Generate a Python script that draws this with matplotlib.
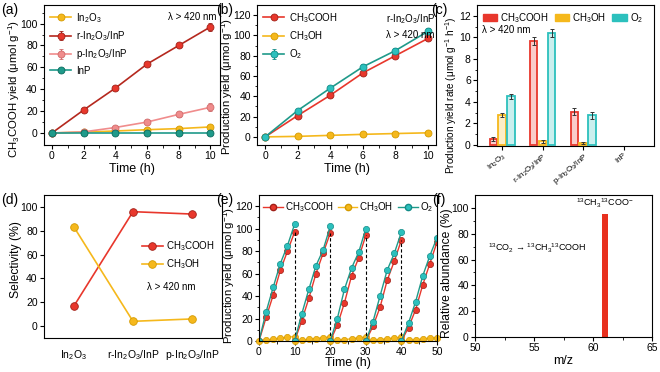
import numpy as np
import matplotlib
matplotlib.use("Agg")
import matplotlib.pyplot as plt
from matplotlib.patches import Patch
from matplotlib.lines import Line2D

plt.rcParams["font.family"] = ["Liberation Sans", "DejaVu Sans"]
plt.rcParams["mathtext.default"] = "regular"
plt.rcParams["font.size"] = 8
plt.rcParams["axes.linewidth"] = 0.8

# ---------------- data ----------------
time = [0, 2, 4, 6, 8, 10]

# (a) CH3COOH yield
a_in2o3 = [0, 0.8, 1.8, 3.0, 4.0, 5.5]
a_r = [0, 21, 41, 63, 80, 97]
a_r_err = [0, 0.8, 1, 1.2, 1.5, 3.5]
a_p = [0, 1, 5, 10, 17, 23.5]
a_p_err = [0, 0.5, 0.8, 1.2, 2.5, 3.5]
a_inp = [0, 0, 0, 0, 0, 0]

# (b) r-In2O3/InP products
b_acid = [0, 21, 41, 63, 80, 97]
b_meoh = [0, 0.5, 1.5, 2.5, 3.3, 4.0]
b_o2 = [0, 26, 48, 69, 85, 104]
b_o2_err = [0, 1.5, 2, 2.5, 2.5, 3]

# (c) production rates
c_groups = ["In$_2$O$_3$", "r-In$_2$O$_3$/InP", "p-In$_2$O$_3$/InP", "InP"]
c_acid = [0.55, 9.65, 3.1, 0]
c_acid_err = [0.2, 0.35, 0.35, 0]
c_meoh = [2.75, 0.35, 0.2, 0]
c_meoh_err = [0.2, 0.15, 0.1, 0]
c_o2 = [4.5, 10.4, 2.75, 0]
c_o2_err = [0.2, 0.35, 0.3, 0]

# (d) selectivity
d_samples = ["In$_2$O$_3$", "r-In$_2$O$_3$/InP", "p-In$_2$O$_3$/InP"]
d_acid = [16.5, 96, 94]
d_meoh = [83.5, 4, 6]

# (e) cycling, five runs of 10 h
e_acid = [[0, 21, 41, 63, 80, 97],
          [0, 18, 38, 60, 78, 96],
          [0, 14, 34, 58, 74, 94],
          [0, 13, 30, 54, 71, 90],
          [0, 12, 28, 50, 69, 88]]
e_o2 = [[0, 26, 48, 69, 85, 104],
        [0, 24, 46, 67, 81, 102],
        [0, 20, 46, 65, 79, 100],
        [0, 17, 40, 63, 78, 97],
        [0, 16, 35, 58, 76, 92]]
e_meoh = [[0, 0.8, 1.5, 2.5, 3.3, 4.0],
          [0, 0.6, 1.4, 2.2, 3.0, 3.5],
          [0, 0.6, 1.2, 2.0, 2.8, 3.4],
          [0, 0.5, 1.2, 2.0, 2.6, 3.2],
          [0, 0.5, 1.0, 1.8, 2.5, 3.0]]

# (f) isotope labelling
f_mz = [61]
f_abund = [95.5]

RED = "#e8372c"
YEL = "#f5b81c"
PINK = "#f08c8c"
TEAL = "#1f9a8a"
CYAN = "#2cc0bd"

fig = plt.figure(figsize=(6.6, 3.72), dpi=100)
W, H = 660, 372
LAB = 8.2


def add_ax(l, t, r, b):
    return fig.add_axes([l / W, 1 - b / H, (r - l) / W, (b - t) / H])


def style(ax):
    ax.tick_params(direction="out", length=3, width=0.8, labelsize=7.5, pad=1.5)
    ax.tick_params(which="minor", direction="out", length=1.8, width=0.6)


def ylab(ax, text, xpos, ypos, size=LAB):
    ax.set_ylabel(text, fontsize=size)
    ax.yaxis.set_label_coords(xpos, ypos)


def mk(ax, x, y, c, ec, lc=None, err=None, **kw):
    ax.errorbar(x, y, yerr=err, color=lc or c, marker="o", ms=5, mfc=c, mec=ec,
                mew=0.6, lw=1.2, ecolor=ec, elinewidth=0.8, capsize=1.5, **kw)


# ---------------- (a) ----------------
ax = add_ax(44, 5, 220, 145)
mk(ax, time, a_in2o3, YEL, "#d49a00", label="In$_2$O$_3$")
mk(ax, time, a_r, RED, "#a02018", lc="#b5281e", err=a_r_err, label="r-In$_2$O$_3$/InP")
mk(ax, time, a_p, PINK, "#d06b6b", err=a_p_err, label="p-In$_2$O$_3$/InP")
mk(ax, time, a_inp, TEAL, "#0c6b5e", label="InP")
ax.set_xlim(-0.5, 10.6)
ax.set_ylim(-11, 117)
ax.set_xticks([0, 2, 4, 6, 8, 10])
ax.set_yticks([0, 20, 40, 60, 80, 100])
ax.set_xticks(np.arange(1, 10, 2), minor=True)
ax.set_yticks(np.arange(10, 111, 20), minor=True)
ax.set_xlabel("Time (h)", fontsize=9, labelpad=1)
ylab(ax, "CH$_3$COOH yield (μmol g$^{-1}$)", -0.125, 0.40)
ax.legend(loc="upper left", frameon=False, fontsize=7, handlelength=2.2,
          borderaxespad=0.2, labelspacing=0.45, handletextpad=0.5)
ax.text(0.98, 0.95, "λ > 420 nm", transform=ax.transAxes, ha="right", va="top", fontsize=7)
style(ax)
fig.text(1 / W, 1 - 10 / H, "(a)", fontsize=10, va="center")

# ---------------- (b) ----------------
ax = add_ax(257, 5, 436, 145)
mk(ax, time, b_acid, RED, "#a02018", label="CH$_3$COOH")
mk(ax, time, b_meoh, YEL, "#d49a00", label="CH$_3$OH")
mk(ax, time, b_o2, CYAN, "#138c88", lc=TEAL, err=b_o2_err, label="O$_2$")
ax.set_xlim(-0.5, 10.5)
ax.set_ylim(-8, 130)
ax.set_xticks([0, 2, 4, 6, 8, 10])
ax.set_yticks(np.arange(0, 121, 20))
ax.set_xticks(np.arange(1, 10, 2), minor=True)
ax.set_yticks(np.arange(10, 121, 20), minor=True)
ax.set_xlabel("Time (h)", fontsize=9, labelpad=1)
ylab(ax, "Production yield (μmol g$^{-1}$)", -0.125, 0.42)
ax.legend(loc="upper left", frameon=False, fontsize=7, handlelength=2.2,
          borderaxespad=0.2, labelspacing=0.45, handletextpad=0.5)
ax.text(0.72, 0.95, "r-In$_2$O$_3$/InP", transform=ax.transAxes, ha="left", va="top", fontsize=7)
ax.text(0.72, 0.82, "λ > 420 nm", transform=ax.transAxes, ha="left", va="top", fontsize=7)
style(ax)
fig.text(216 / W, 1 - 10 / H, "(b)", fontsize=10, va="center")

# ---------------- (c) ----------------
ax = add_ax(477, 5, 654, 146)
x = np.arange(len(c_groups))
w = 0.18
for off, vals, errs, col in [(-0.22, c_acid, c_acid_err, RED),
                             (0.0, c_meoh, c_meoh_err, YEL),
                             (0.22, c_o2, c_o2_err, CYAN)]:
    v = np.array(vals)
    keep = v > 0
    ax.bar(x[keep] + off, v[keep], w, color=col, alpha=0.25, lw=0)
    ax.bar(x[keep] + off, v[keep], w, fill=False, edgecolor=col, lw=1.3)
    ax.errorbar(x[keep] + off, v[keep], yerr=np.array(errs)[keep], fmt="none",
                ecolor="#333333", elinewidth=0.7, capsize=1.5, capthick=0.7)
ax.set_xlim(-0.62, 3.75)
ax.set_ylim(-0.1, 13)
ax.set_yticks(np.arange(0, 13, 2))
ax.set_yticks(np.arange(1, 13, 2), minor=True)
ax.set_xticks(x)
ylab(ax, "Production yield rate (μmol g$^{-1}$ h$^{-1}$)", -0.1, 0.36, size=7.2)
handles = [Patch(color=RED), Patch(color=YEL), Patch(color=CYAN)]
ax.legend(handles, ["CH$_3$COOH", "CH$_3$OH", "O$_2$"], loc="upper left", ncol=3,
          frameon=False, fontsize=7, handlelength=1.5, handleheight=0.8,
          columnspacing=0.6, handletextpad=0.3, borderaxespad=0.2)
ax.text(0.03, 0.86, "λ > 420 nm", transform=ax.transAxes, ha="left", va="top", fontsize=7)
style(ax)
ax.set_xticklabels(c_groups, rotation=40, ha="right", rotation_mode="anchor", fontsize=5.8)
ax.tick_params(axis="x", pad=1)
fig.text(431 / W, 1 - 10 / H, "(c)", fontsize=10, va="center")

# ---------------- (d) ----------------
ax = add_ax(44, 195, 222, 338)
xd = np.arange(len(d_samples))
ax.plot(xd, d_acid, color=RED, marker="o", ms=5.5, mfc=RED, mec="#a02018", mew=0.6,
        lw=1.2, label="CH$_3$COOH")
ax.plot(xd, d_meoh, color=YEL, marker="o", ms=5.5, mfc=YEL, mec="#d49a00", mew=0.6,
        lw=1.2, label="CH$_3$OH")
ax.set_xlim(-0.5, 2.5)
ax.set_ylim(-10, 110)
ax.set_yticks(np.arange(0, 101, 20))
ax.set_xticks(xd)
ax.set_xticklabels(d_samples)
ylab(ax, "Selectivity (%)", -0.125, 0.55, size=LAB + 0.5)
ax.legend(loc="center left", bbox_to_anchor=(0.5, 0.58), frameon=False, fontsize=7,
          handlelength=2.2, labelspacing=0.45, handletextpad=0.3)
ax.text(0.58, 0.36, "λ > 420 nm", transform=ax.transAxes, ha="left", va="center", fontsize=7)
style(ax)
ax.tick_params(axis="x", length=0, pad=7)
fig.text(1 / W, 1 - 200 / H, "(d)", fontsize=10, va="center")

# ---------------- (e) ----------------
ax = add_ax(259, 195, 437, 341)
for k in range(len(e_acid)):
    tt = [10 * k + t for t in time]
    ax.plot(tt, e_meoh[k], color=YEL, marker="o", ms=4.5, mfc=YEL, mec="#d49a00",
            mew=0.5, lw=1.0, clip_on=False)
    ax.plot(tt, e_acid[k], color=RED, marker="o", ms=4.5, mfc=RED, mec="#a02018",
            mew=0.5, lw=1.0)
    ax.plot(tt, e_o2[k], color=TEAL, marker="o", ms=4.5, mfc=CYAN, mec="#138c88",
            mew=0.5, lw=1.0)
    if k < len(e_acid) - 1:
        ax.plot([tt[-1], tt[-1]], [0, e_acid[k][-1]], ls=(0, (3, 2)), color="black", lw=0.8)
ax.set_xlim(0, 50)
ax.set_ylim(0, 130)
ax.set_xticks(np.arange(0, 51, 10))
ax.set_xticks(np.arange(5, 50, 10), minor=True)
ax.set_yticks(np.arange(0, 121, 20))
ax.set_yticks(np.arange(10, 121, 20), minor=True)
ax.set_xlabel("Time (h)", fontsize=9, labelpad=0)
ylab(ax, "Production yield (μmol g$^{-1}$)", -0.125, 0.45)
hd = [Line2D([], [], color=RED, marker="o", ms=4.5, mec="#a02018", lw=1.0),
      Line2D([], [], color=YEL, marker="o", ms=4.5, mec="#d49a00", lw=1.0),
      Line2D([], [], color=TEAL, marker="o", ms=4.5, mfc=CYAN, mec="#138c88", lw=1.0)]
ax.legend(hd, ["CH$_3$COOH", "CH$_3$OH", "O$_2$"], loc="upper center", ncol=3,
          frameon=False, fontsize=7, handlelength=2.0, columnspacing=0.5,
          handletextpad=0.2, borderaxespad=0.15)
style(ax)
ax.tick_params(axis="x", pad=1)
fig.text(216 / W, 1 - 200 / H, "(e)", fontsize=10, va="center")

# ---------------- (f) ----------------
ax = add_ax(475, 195, 652, 337)
ax.bar(f_mz, f_abund, 0.5, color="#e8301e")
ax.set_xlim(50, 65)
ax.set_ylim(0, 110)
ax.set_xticks([50, 55, 60, 65])
ax.set_xticks(np.arange(52.5, 65, 5), minor=True)
ax.set_yticks(np.arange(0, 101, 20))
ax.set_yticks(np.arange(10, 101, 20), minor=True)
ax.set_xlabel("m/z", fontsize=9, labelpad=1)
ylab(ax, "Relative abundance (%)", -0.125, 0.45, size=LAB + 0.5)
ax.text(f_mz[0], f_abund[0] + 3, "$^{13}$CH$_3$$^{13}$COO$^{-}$", ha="center", va="bottom", fontsize=6.5)
ax.text(51.1, 69, "$^{13}$CO$_2$ → $^{13}$CH$_3$$^{13}$COOH", ha="left", va="center", fontsize=6.5)
style(ax)
fig.text(432 / W, 1 - 200 / H, "(f)", fontsize=10, va="center")

fig.savefig("out.png", dpi=100)
